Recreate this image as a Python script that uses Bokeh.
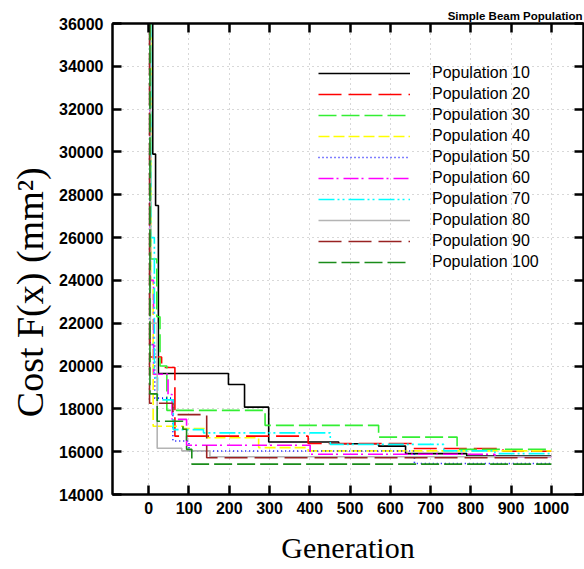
from bokeh.plotting import figure
from bokeh.models import (LinearAxis, FixedTicker, Legend, LegendItem, Range1d)
from bokeh.embed import file_html
from bokeh.resources import INLINE

# ---------------- data ----------------
x_ticks = [0, 100, 200, 300, 400, 500, 600, 700, 800, 900, 1000]
y_ticks = [14000, 16000, 18000, 20000, 22000, 24000, 26000, 28000,
           30000, 32000, 34000, 36000]

labels = ["Population 10", "Population 20", "Population 30", "Population 40",
          "Population 50", "Population 60", "Population 70", "Population 80",
          "Population 90", "Population 100"]

p10_gen = [0, 10, 17, 24, 198, 238, 298, 472, 571, 638, 790, 1000]
p10_cost = [36000, 29900, 27500, 19650, 19140, 18080, 16450, 16370, 16260, 15910, 15800, 15800]

p20_gen = [0, 3, 32, 65, 396, 655, 880, 1000]
p20_cost = [36000, 20420, 19930, 16725, 16380, 16150, 16020, 16020]

p30_gen = [0, 5, 20, 28, 45, 289, 571, 766, 1000]
p30_cost = [36000, 25000, 22300, 20000, 17930, 17230, 16680, 16110, 16110]

p40_gen = [0, 5, 11, 86, 144, 273, 396, 1000]
p40_cost = [36000, 24000, 17190, 17080, 16650, 16190, 16040, 16040]

p50_gen = [0, 3, 15, 60, 100, 660, 1000]
p50_cost = [36000, 21000, 18500, 16500, 16030, 15450, 15450]

p60_gen = [0, 4, 12, 48, 58, 94, 401, 860, 1000]
p60_cost = [36000, 24000, 19620, 18670, 17510, 16300, 15880, 15760, 15760]

p70_gen = [0, 5, 14, 22, 61, 136, 451, 733, 860, 1000]
p70_cost = [36000, 26000, 19460, 18420, 17030, 16880, 16340, 16040, 15910, 15910]

p80_gen = [0, 4, 21, 82, 152, 1000]
p80_cost = [36000, 22000, 16160, 16040, 15760, 15760]

p90_gen = [0, 2, 60, 144, 1000]
p90_cost = [36000, 18260, 17730, 15720, 15720]

p100_gen = [0, 3, 21, 85, 94, 107, 1000]
p100_cost = [36000, 18700, 17420, 17050, 16110, 15420, 15420]

series_gen = [p10_gen, p20_gen, p30_gen, p40_gen, p50_gen,
              p60_gen, p70_gen, p80_gen, p90_gen, p100_gen]
series_cost = [p10_cost, p20_cost, p30_cost, p40_cost, p50_cost,
               p60_cost, p70_cost, p80_cost, p90_cost, p100_cost]

# ---------------- styles ----------------
colors = ["#000000", "#ff0000", "#33ee33", "#ffff00", "#0000ff",
          "#ff00ff", "#00ffff", "#b4b4b4", "#992222", "#1a8c1a"]
dashes = ["solid", "23 7", "18 5", "11 4", "1 3",
          "15 3 2 5", "16 3 2 3 2 4", "solid", "23 7", "18 5"]

x_rng = Range1d(-90, 1080)
y_rng = Range1d(14000, 36000)
p = figure(width=584, height=569, x_range=x_rng, y_range=y_rng,
           output_backend="svg", toolbar_location=None,
           min_border_left=112, min_border_right=1,
           min_border_top=23, min_border_bottom=75)
p.background_fill_color = None
p.border_fill_color = "white"
p.outline_line_color = "black"
p.outline_line_width = 2

p.title.text = "Simple Beam Population"
p.title.align = "right"
p.title.text_font = "Liberation Sans"
p.title.text_font_style = "bold"
p.title.text_font_size = "11.5px"
p.title.text_color = "black"
p.title.offset = 1
p.title.standoff = 3


def style_ticks(ax):
    ax.axis_line_width = 2
    ax.axis_line_color = "black"
    ax.major_tick_in = 9
    ax.major_tick_out = 0
    ax.major_tick_line_width = 2.5
    ax.major_tick_line_color = "black"
    ax.minor_tick_line_color = None


tick_font = "Liberation Sans"
for ax in (p.xaxis[0], p.yaxis[0]):
    style_ticks(ax)
    ax.major_label_text_font = tick_font
    ax.major_label_text_font_style = "bold"
    ax.major_label_text_font_size = "16px"
    ax.major_label_text_color = "black"
    ax.axis_label_text_font = "Liberation Serif"
    ax.axis_label_text_font_style = "normal"
    ax.axis_label_text_color = "black"
p.xaxis.ticker = FixedTicker(ticks=x_ticks)
p.yaxis.ticker = FixedTicker(ticks=y_ticks)
p.xaxis.major_label_standoff = 7
p.yaxis.major_label_standoff = 9

p.xaxis.axis_label = "Generation"
p.xaxis.axis_label_text_font_size = "30px"
p.xaxis.axis_label_standoff = 14

nb = "\u00a0"
p.yaxis.axis_label = "Cost F(x) (mm²)" + nb * 7
p.yaxis.axis_label_text_font_size = "38px"
p.yaxis.axis_label_standoff = 5

for loc, tk in (("right", y_ticks), ("above", x_ticks)):
    ax = LinearAxis(ticker=FixedTicker(ticks=tk))
    style_ticks(ax)
    ax.major_label_text_font_size = "1px"
    ax.major_label_text_color = None
    ax.major_label_standoff = 0
    p.add_layout(ax, loc)

for g in (p.xgrid[0], p.ygrid[0]):
    g.grid_line_color = "#b0b0b0"
    g.grid_line_dash = "1 4"
    g.grid_line_width = 1
p.xgrid.ticker = FixedTicker(ticks=x_ticks)
p.ygrid.ticker = FixedTicker(ticks=y_ticks)

items = []
for lab, gx, gy, c, d in zip(labels, series_gen, series_cost, colors, dashes):
    r = p.step(gx, gy, mode="after", line_color=c, line_dash=d, line_width=1.6)
    items.append(LegendItem(label=lab, renderers=[r]))

legend = Legend(items=items, location=(202, 218))
legend.margin = 0
legend.padding = 4
legend.spacing = 1
legend.glyph_height = 20
legend.label_height = 20
legend.glyph_width = 92
legend.label_standoff = 22
legend.label_text_font = "Liberation Sans"
legend.label_text_font_size = "16px"
legend.label_text_color = "black"
legend.background_fill_alpha = 0
legend.border_line_alpha = 0
p.add_layout(legend)

open("out.html", "w").write(file_html(p, INLINE))
